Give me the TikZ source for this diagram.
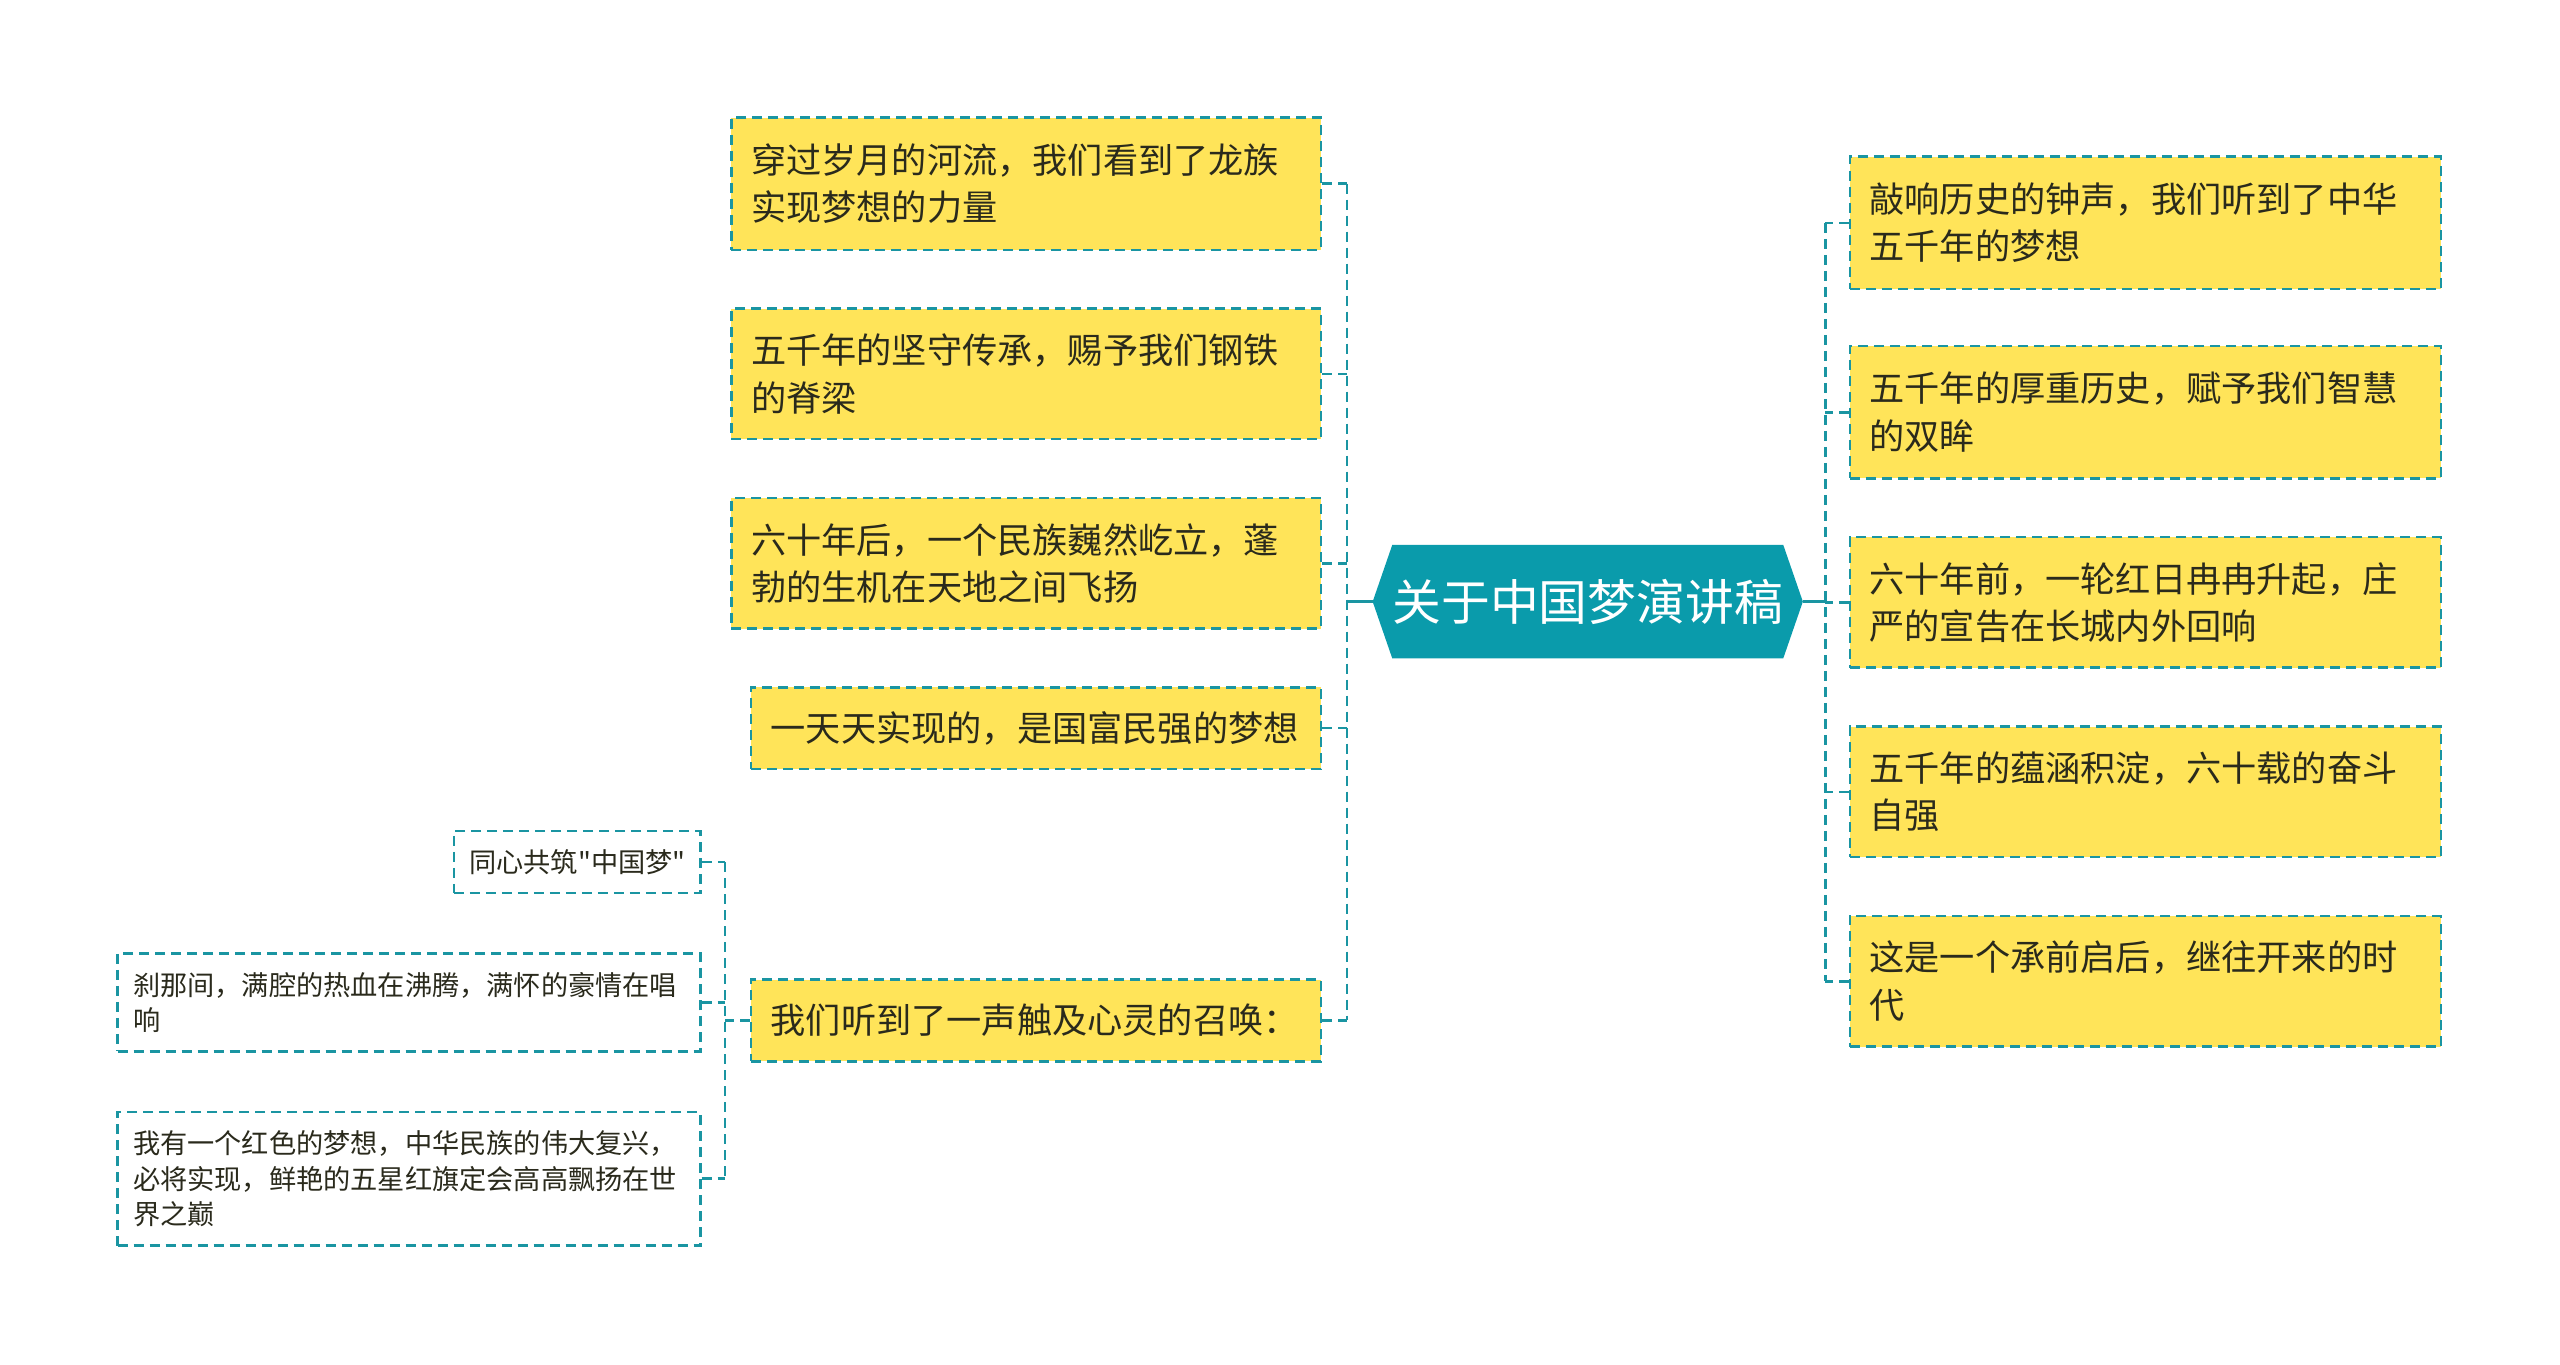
\documentclass[tikz,border=0pt]{standalone}
\usepackage{fontspec}
\setmainfont{Noto Sans CJK SC}[Ligatures=TeXOff]
\usetikzlibrary{backgrounds}
\definecolor{yel}{HTML}{FFE459}
\definecolor{tealb}{HTML}{1A95A2}
\definecolor{rootc}{HTML}{0A9BAB}
\definecolor{txt}{HTML}{2A2A1C}
\newcommand\pxu{0.8163pt}
\begin{document}
\begin{tikzpicture}[x=0.8163pt,y=-0.8163pt,
  dsh/.style={draw=tealb,line width=1.3pt,dash pattern=on 5pt off 3pt},
  leaf/.style={dsh,fill=yel,rectangle,inner xsep=12*\pxu,inner ysep=0pt,align=left,text=txt,
    font=\fontsize{17.6pt}{23.7pt}\selectfont},
  sub/.style={dsh,fill=white,rectangle,inner xsep=9.5*\pxu,inner ysep=0pt,align=left,text=txt,
    font=\fontsize{13.6pt}{17.6pt}\selectfont},
  conn/.style={dsh},
  rootconn/.style={draw=tealb,line width=1.3pt}]
\useasboundingbox (0,0) rectangle (1568,836);

% root
\node[minimum width=263*\pxu,minimum height=69*\pxu,inner sep=0pt,text=white,
  font=\fontsize{24.4pt}{28pt}\selectfont] (root) at (972.5,368.5) {关于中国梦演讲稿};
\begin{scope}[on background layer]
\fill[rootc] (root.west) -- ([xshift=12*\pxu]root.north west) -- ([xshift=-12*\pxu]root.north east)
  -- (root.east) -- ([xshift=-12*\pxu]root.south east) -- ([xshift=12*\pxu]root.south west) -- cycle;
\end{scope}

% left nodes
\node[leaf,minimum width=361*\pxu,minimum height=81*\pxu,text width=275.1pt] (L1) at (628.5,112.5)
  {穿过岁月的河流，我们看到了龙族\\实现梦想的力量};
\node[leaf,minimum width=361*\pxu,minimum height=80*\pxu,text width=275.1pt] (L2) at (628.5,229)
  {五千年的坚守传承，赐予我们钢铁\\的脊梁};
\node[leaf,minimum width=361*\pxu,minimum height=80*\pxu,text width=275.1pt] (L3) at (628.5,345)
  {六十年后，一个民族巍然屹立，蓬\\勃的生机在天地之间飞扬};
\node[leaf,minimum width=349*\pxu,minimum height=50*\pxu,text width=265.3pt] (L4) at (634.5,446)
  {一天天实现的，是国富民强的梦想};
\node[leaf,minimum width=349*\pxu,minimum height=50*\pxu,text width=265.3pt] (L5) at (634.5,625)
  {我们听到了一声触及心灵的召唤：};

% sub nodes
\node[sub,minimum width=151*\pxu,minimum height=38*\pxu,text width=107.8pt] (C1) at (353.5,528)
  {同心共筑"中国梦"};
\node[sub,minimum width=357*\pxu,minimum height=60*\pxu,text width=275.9pt] (C2) at (250.5,614)
  {刹那间，满腔的热血在沸腾，满怀的豪情在唱\\响};
\node[sub,minimum width=357*\pxu,minimum height=82*\pxu,text width=275.9pt] (C3) at (250.5,722)
  {我有一个红色的梦想，中华民族的伟大复兴，\\必将实现，鲜艳的五星红旗定会高高飘扬在世\\界之巅};

% right nodes
\node[leaf,minimum width=362*\pxu,minimum height=81*\pxu,text width=275.9pt] (R1) at (1314,136.5)
  {敲响历史的钟声，我们听到了中华\\五千年的梦想};
\node[leaf,minimum width=362*\pxu,minimum height=81*\pxu,text width=275.9pt] (R2) at (1314,252.5)
  {五千年的厚重历史，赋予我们智慧\\的双眸};
\node[leaf,minimum width=362*\pxu,minimum height=80*\pxu,text width=275.9pt] (R3) at (1314,369)
  {六十年前，一轮红日冉冉升起，庄\\严的宣告在长城内外回响};
\node[leaf,minimum width=362*\pxu,minimum height=80*\pxu,text width=275.9pt] (R4) at (1314,485)
  {五千年的蕴涵积淀，六十载的奋斗\\自强};
\node[leaf,minimum width=362*\pxu,minimum height=80*\pxu,text width=275.9pt] (R5) at (1314,601)
  {这是一个承前启后，继往开来的时\\代};

% junction coordinates
\coordinate (jl) at (825,368.5);
\coordinate (jr) at (1118,368.5);
\coordinate (jc) at (444,625);

% left connectors
\draw[rootconn] (root.west) -- (jl);
\draw[conn] (L1.east -| jl) -- (L5.east -| jl);
\foreach \n in {L1,L2,L3,L4,L5} \draw[conn] (\n.east) -- (\n.east -| jl);

% right connectors
\draw[rootconn] (root.east) -- (jr);
\draw[conn] (R1.west -| jr) -- (R5.west -| jr);
\foreach \n in {R1,R2,R3,R4,R5} \draw[conn] (\n.west) -- (\n.west -| jr);

% sub connectors
\draw[conn] (L5.west) -- (jc);
\draw[conn] (C1.east -| jc) -- (C3.east -| jc);
\foreach \n in {C1,C2,C3} \draw[conn] (\n.east) -- (\n.east -| jc);
\end{tikzpicture}
\end{document}
